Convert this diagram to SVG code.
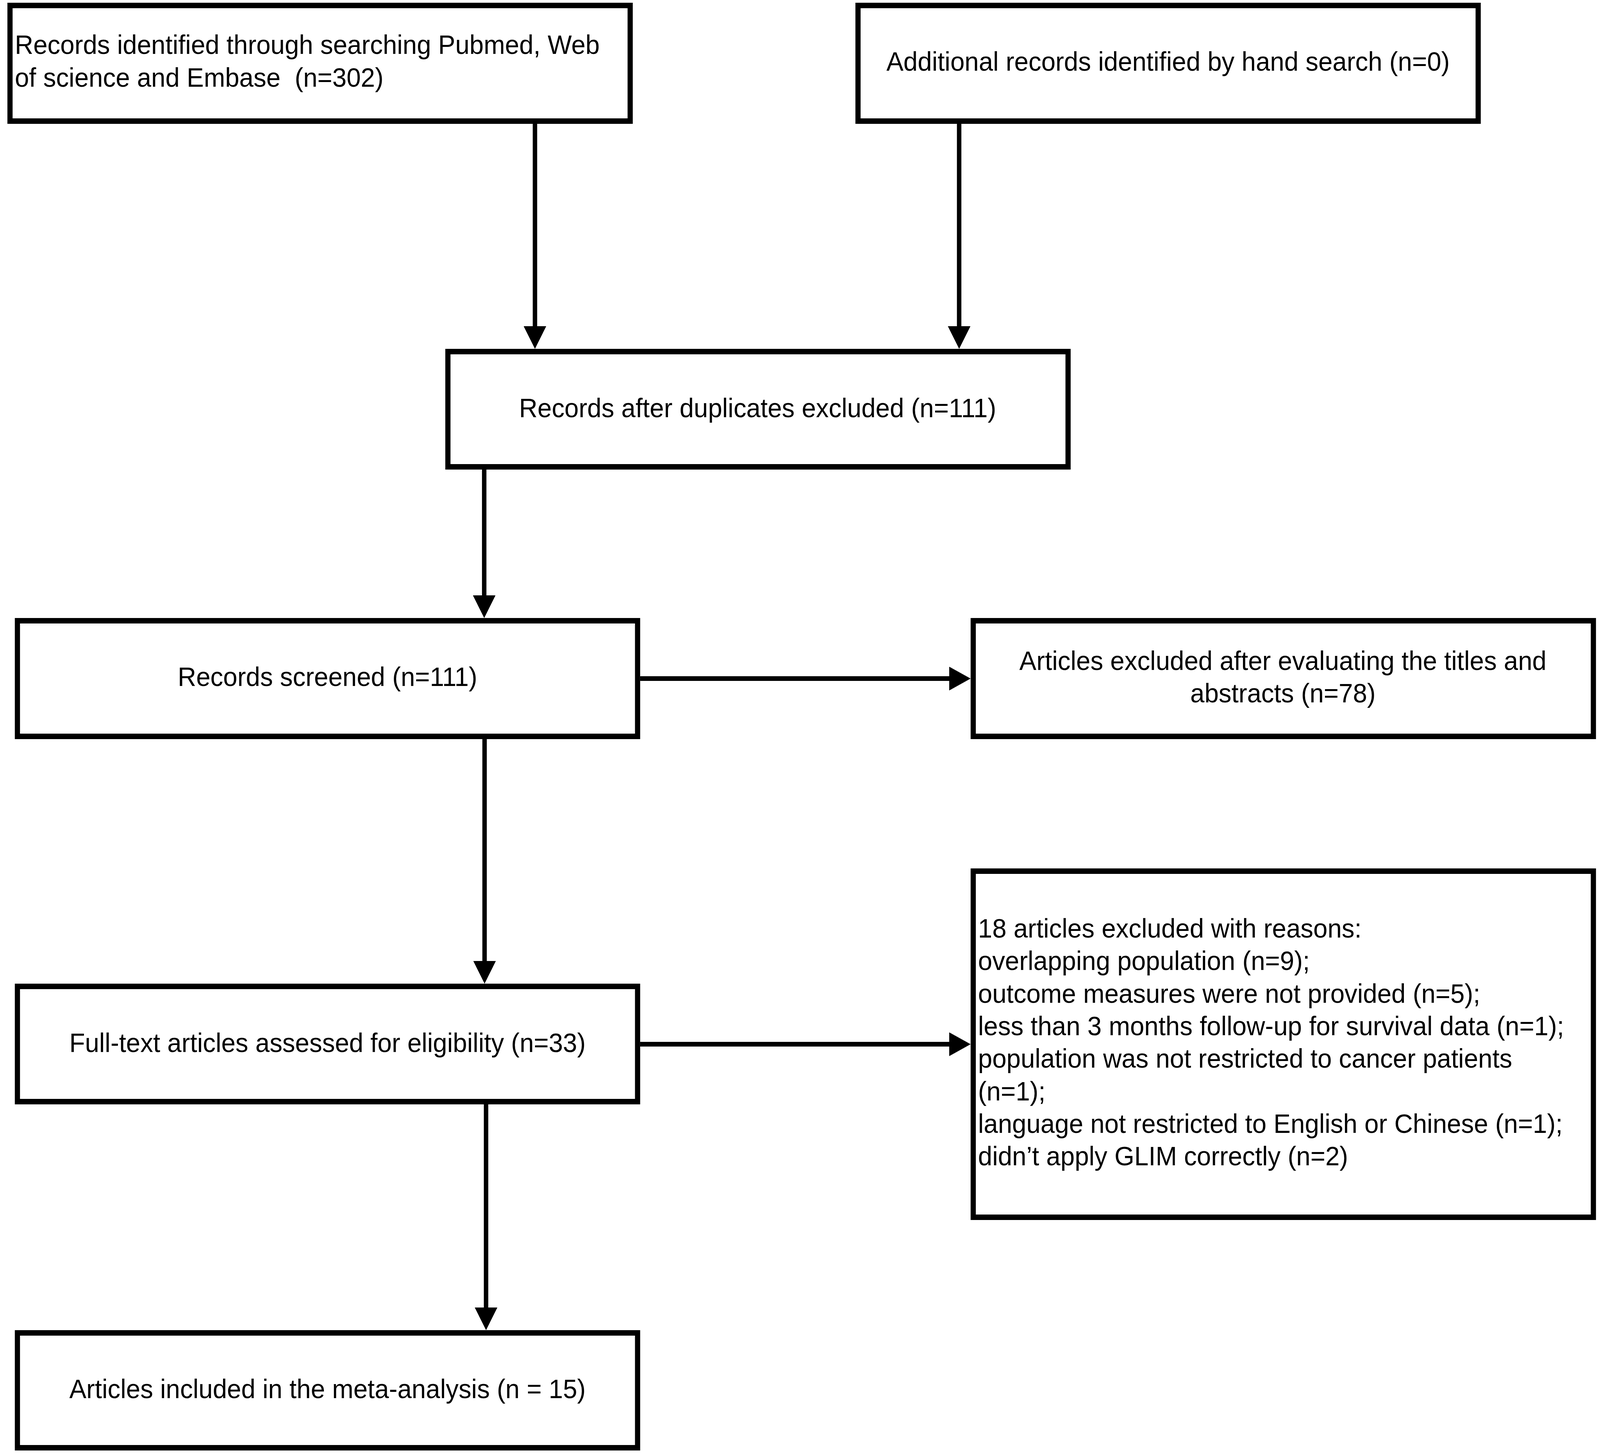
<svg xmlns="http://www.w3.org/2000/svg" width="4317" height="3722" viewBox="0 0 4317 3722">
<style>
.box{fill:#fff;stroke:#000;stroke-width:14}
.t{font-family:"Liberation Sans",Arial,sans-serif;font-size:69px;fill:#000}
.c{text-anchor:middle}
.conn{stroke:#000;stroke-width:12;fill:none}
</style>
<defs>
<marker id="ah" markerUnits="userSpaceOnUse" markerWidth="58" markerHeight="61" refX="2" refY="30.5" orient="auto" viewBox="0 0 58 61">
<path d="M0,0 L58,30.5 L0,61 z" fill="#000"/>
</marker>
</defs>
<rect width="4317" height="3722" fill="#fff"/>
<g id="diagram" transform="scale(0.9484,1)">
<g id="connectors">
<line class="conn" x1="1444" y1="317" x2="1444" y2="837" marker-end="url(#ah)"/>
<line class="conn" x1="2589" y1="317" x2="2589" y2="837" marker-end="url(#ah)"/>
<line class="conn" x1="1307" y1="1202" x2="1307" y2="1526" marker-end="url(#ah)"/>
<line class="conn" x1="1728" y1="1737" x2="2564" y2="1737" marker-end="url(#ah)"/>
<line class="conn" x1="1308" y1="1892" x2="1308" y2="2462" marker-end="url(#ah)"/>
<line class="conn" x1="1728" y1="2673" x2="2564" y2="2673" marker-end="url(#ah)"/>
<line class="conn" x1="1312" y1="2827" x2="1312" y2="3349" marker-end="url(#ah)"/>
</g>
<g id="node-records-identified">
<rect class="box" x="27" y="14" width="1674" height="296"/>
<text class="t" x="40" y="138">Records identified through searching Pubmed, Web</text>
<text class="t" x="40" y="222" xml:space="preserve">of science and Embase  (n=302)</text>
</g>
<g id="node-additional-records">
<rect class="box" x="2316" y="14" width="1674" height="296"/>
<text class="t c" x="3153" y="181">Additional records identified by hand search (n=0)</text>
</g>
<g id="node-after-duplicates">
<rect class="box" x="1209" y="900" width="1674" height="295"/>
<text class="t c" x="2045" y="1068">Records after duplicates excluded (n=111)</text>
</g>
<g id="node-screened">
<rect class="box" x="47" y="1589" width="1674" height="296"/>
<text class="t c" x="884" y="1756">Records screened (n=111)</text>
</g>
<g id="node-excluded-titles">
<rect class="box" x="2627" y="1589" width="1674" height="296"/>
<text class="t c" x="3463" y="1715">Articles excluded after evaluating the titles and</text>
<text class="t c" x="3463" y="1798">abstracts (n=78)</text>
</g>
<g id="node-excluded-reasons">
<rect class="box" x="2627" y="2230" width="1674" height="886"/>
<text class="t" x="2640" y="2400">18 articles excluded with reasons:</text>
<text class="t" x="2640" y="2483">overlapping population (n=9);</text>
<text class="t" x="2640" y="2567">outcome measures were not provided (n=5);</text>
<text class="t" x="2640" y="2650">less than 3 months follow-up for survival data (n=1);</text>
<text class="t" x="2640" y="2733">population was not restricted to cancer patients</text>
<text class="t" x="2640" y="2817">(n=1);</text>
<text class="t" x="2640" y="2900">language not restricted to English or Chinese (n=1);</text>
<text class="t" x="2640" y="2983">didn’t apply GLIM correctly (n=2)</text>
</g>
<g id="node-full-text">
<rect class="box" x="47" y="2525" width="1674" height="295"/>
<text class="t c" x="884" y="2693">Full-text articles assessed for eligibility (n=33)</text>
</g>
<g id="node-included">
<rect class="box" x="47" y="3412" width="1674" height="294"/>
<text class="t c" x="884" y="3579">Articles included in the meta-analysis (n = 15)</text>
</g>
</g>
</svg>
